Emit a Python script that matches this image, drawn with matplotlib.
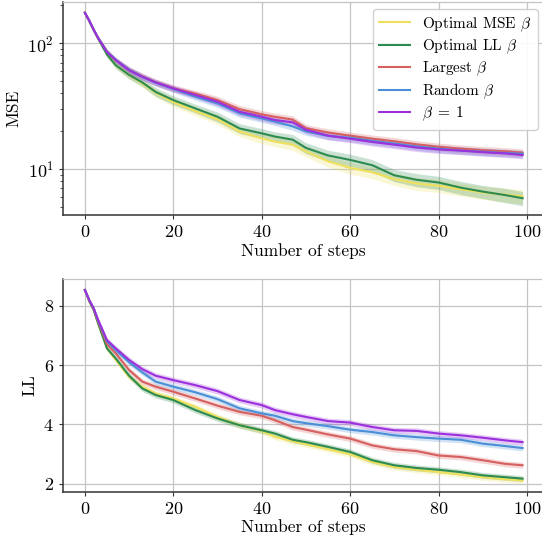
import numpy as np
import matplotlib
matplotlib.use("Agg")
import matplotlib.pyplot as plt
import matplotlib as mpl

mpl.rcParams.update({
    "font.family": "serif",
    "font.serif": ["cmr10", "DejaVu Serif"],
    "mathtext.fontset": "cm",
    "axes.formatter.use_mathtext": True,
    "font.size": 12,
    "axes.labelsize": 12.5,
    "xtick.labelsize": 13,
    "ytick.labelsize": 13,
    "legend.fontsize": 11,
})

# =========================================================
# Data
# =========================================================
steps = [0, 1, 2, 3, 5, 7, 10, 13, 16, 20, 25, 30, 35, 40, 43, 47, 50, 55,
         60, 65, 70, 75, 80, 85, 90, 95, 99]

labels = [r"Optimal MSE $\beta$", r"Optimal LL $\beta$", r"Largest $\beta$",
          r"Random $\beta$", r"$\beta\;=\;1$"]

mse_opt_mse = [175, 150, 127, 109, 82, 67, 56, 48, 40.5, 34, 28.8, 24.8, 19.8, 17.5,
               16.5, 15.6, 13.8, 11.5, 10.2, 9.4, 8.3, 7.65, 7.35, 6.9, 6.5, 6.25, 6.05]
mse_opt_ll = [175, 150, 127, 109, 81.3, 66.9, 56, 48.8, 41, 35.3, 30.3, 26, 21, 19.2,
              18.1, 17.1, 14.7, 12.8, 11.8, 10.7, 8.9, 8.2, 7.8, 7.1, 6.6, 6.2, 5.85]
mse_largest = [175, 151, 128, 110, 85.5, 73.5, 61.5, 54.5, 49, 43.9, 39.8, 35.3, 29.9,
               27.2, 26, 24.7, 21.1, 19.5, 18.4, 17.4, 16.6, 15.7, 15.0, 14.5, 14.1, 13.8, 13.5]
mse_random = [175, 151, 128, 110, 85.5, 73.5, 61.5, 54, 48.5, 43.3, 37.5, 33.2, 27.7,
              25.2, 23.8, 21.8, 19.9, 18.3, 17.7, 16.7, 15.9, 15.1, 14.5, 14.0, 13.7, 13.4, 13.2]
mse_beta1 = [175, 151, 128, 110, 85.2, 73.2, 61, 54, 48.8, 43.7, 38.7, 34.2, 28.5,
             26, 24.5, 23.5, 20.5, 18.4, 17.4, 16.4, 15.6, 14.8, 14.3, 14.0, 13.6, 13.3, 12.9]

# relative 95% CI half-widths for the MSE panel
mse_ci_opt = [0, 0.02, 0.03, 0.04, 0.05, 0.06, 0.07, 0.07, 0.08, 0.08, 0.08, 0.09, 0.09,
              0.09, 0.09, 0.10, 0.10, 0.10, 0.11, 0.11, 0.11, 0.12, 0.12, 0.12, 0.12, 0.13, 0.13]
mse_ci_base = [0, 0.02, 0.03, 0.04, 0.05, 0.05, 0.06, 0.06, 0.06, 0.06, 0.06, 0.07, 0.07,
               0.07, 0.07, 0.07, 0.07, 0.07, 0.07, 0.07, 0.07, 0.07, 0.07, 0.07, 0.07, 0.07, 0.07]

ll_opt_mse = [8.53, 8.15, 7.85, 7.40, 6.56, 6.17, 5.60, 5.27, 5.04, 4.87, 4.59, 4.25, 3.97,
              3.77, 3.58, 3.43, 3.33, 3.16, 2.99, 2.73, 2.56, 2.47, 2.39, 2.31, 2.22, 2.15, 2.11]
ll_opt_ll = [8.53, 8.15, 7.85, 7.40, 6.56, 6.22, 5.64, 5.21, 4.99, 4.82, 4.48, 4.20, 3.97,
             3.80, 3.69, 3.48, 3.40, 3.24, 3.07, 2.79, 2.62, 2.53, 2.47, 2.39, 2.28, 2.22, 2.17]
ll_largest = [8.53, 8.17, 7.88, 7.46, 6.70, 6.39, 5.83, 5.44, 5.27, 5.10, 4.87, 4.63, 4.42,
              4.29, 4.14, 3.91, 3.82, 3.66, 3.52, 3.29, 3.16, 3.10, 2.95, 2.90, 2.79, 2.67, 2.62]
ll_random = [8.53, 8.19, 7.91, 7.50, 6.80, 6.50, 6.09, 5.75, 5.44, 5.27, 5.08, 4.85, 4.54,
             4.37, 4.29, 4.11, 4.04, 3.94, 3.82, 3.74, 3.63, 3.57, 3.52, 3.48, 3.35, 3.27, 3.20]
ll_beta1 = [8.53, 8.19, 7.91, 7.52, 6.84, 6.56, 6.17, 5.86, 5.64, 5.49, 5.32, 5.12, 4.82,
            4.65, 4.48, 4.34, 4.25, 4.11, 4.06, 3.91, 3.80, 3.78, 3.69, 3.63, 3.55, 3.46, 3.40]

# absolute 95% CI half-widths for the LL panel
ll_ci = [0, 0.03, 0.05, 0.06, 0.08, 0.09, 0.10, 0.10, 0.10, 0.10, 0.10, 0.10, 0.10,
         0.10, 0.10, 0.10, 0.10, 0.10, 0.10, 0.10, 0.10, 0.10, 0.10, 0.10, 0.10, 0.10, 0.10]

colors = ["#efe05c", "#2e8b50", "#d65f5f", "#4a8fd6", "#9b30dc"]

# =========================================================
# Plot
# =========================================================
def style_axis(ax):
    ax.grid(True, which="major", color="#c4c4c4", linewidth=0.9)
    ax.set_axisbelow(True)
    for side in ("top", "right"):
        ax.spines[side].set_color("#c4c4c4")
        ax.spines[side].set_linewidth(0.9)
    for side in ("left", "bottom"):
        ax.spines[side].set_color("#333333")
        ax.spines[side].set_linewidth(1.1)
    ax.tick_params(which="major", length=3, width=0.8, color="#333333")
    ax.tick_params(which="minor", length=2, width=0.6, color="#333333")
    ax.set_xlim(-4.95, 103.95)
    ax.set_xticks([0, 20, 40, 60, 80, 100])
    ax.set_xlabel("Number of steps", labelpad=2)


fig = plt.figure(figsize=(5.42, 5.43), dpi=100)
ax1 = fig.add_axes([63 / 542, 1 - 215 / 543, 481.5 / 542, 213 / 543])
ax2 = fig.add_axes([63 / 542, 1 - 491.7 / 543, 481.5 / 542, 212.4 / 543])

x = np.array(steps)
mse_series = [mse_opt_mse, mse_opt_ll, mse_largest, mse_random, mse_beta1]
mse_cis = [mse_ci_opt, mse_ci_opt, mse_ci_base, mse_ci_base, mse_ci_base]
for vals, ci, c, lab in zip(mse_series, mse_cis, colors, labels):
    m = np.array(vals)
    r = np.array(ci)
    ax1.fill_between(x, m * (1 - r), m * (1 + r), color=c, alpha=0.25, linewidth=0)
    ax1.plot(x, m, color=c, linewidth=1.5, label=lab)
ax1.set_yscale("log")
ax1.set_ylabel("MSE")
style_axis(ax1)
ax1.set_ylim(4.3, 213)
ax1.legend(loc="upper right", bbox_to_anchor=(537.5 / 542, 1 - 9 / 543),
           bbox_transform=fig.transFigure, borderaxespad=0, framealpha=0.9,
           edgecolor="#cccccc", fancybox=True, labelspacing=0.25)

ll_series = [ll_opt_mse, ll_opt_ll, ll_largest, ll_random, ll_beta1]
for vals, c, lab in zip(ll_series, colors, labels):
    m = np.array(vals)
    e = np.array(ll_ci)
    ax2.fill_between(x, m - e, m + e, color=c, alpha=0.25, linewidth=0)
    ax2.plot(x, m, color=c, linewidth=1.5, label=lab)
ax2.set_ylabel("LL")
style_axis(ax2)
ax2.set_ylim(1.73, 8.89)
ax2.set_yticks([2, 4, 6, 8])

fig.savefig("out.png", dpi=100)
